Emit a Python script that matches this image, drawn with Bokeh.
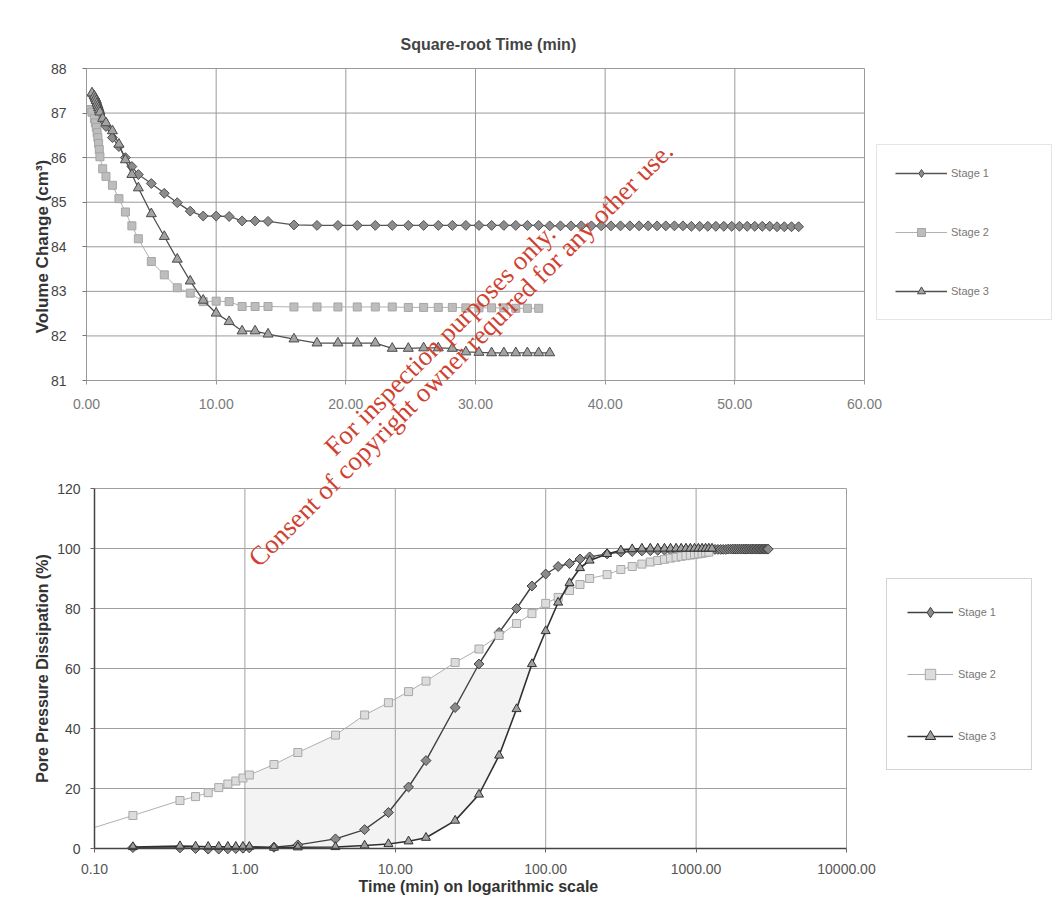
import numpy as np
from bokeh.plotting import figure
from bokeh.models import (Range1d, FixedTicker, PrintfTickFormatter, Legend,
                          LegendItem, Label, LinearAxis, LogAxis, LinearScale,
                          LogScale)
from bokeh.embed import file_html
from bokeh.resources import INLINE

# ---------------- data ----------------
# elapsed time (min) of each reading
T1 = [0.18, 0.37, 0.47, 0.57, 0.67, 0.77, 0.87, 0.97, 1.07, 1.56, 2.25, 4, 6.25, 9,
      12.25, 16, 25, 36, 49, 64, 81, 100, 121, 144, 169, 196,
      256, 316, 376, 436, 496, 556, 616, 676, 736, 796, 856, 916, 976, 1036, 1096,
      1156, 1216, 1276, 1336, 1396, 1456, 1516, 1576, 1636, 1696, 1756, 1816, 1876,
      1936, 1996, 2056, 2116, 2176, 2236, 2296, 2356, 2416, 2476, 2536, 2596, 2656,
      2716, 2776, 2836, 2896, 2956, 3016]
VOL1 = [87.40, 87.33, 87.28, 87.23, 87.18, 87.13, 87.08, 87.03, 86.98, 86.85, 86.70,
        86.45, 86.25, 86.00, 85.80, 85.62, 85.42, 85.20, 84.99, 84.80, 84.69, 84.69,
        84.68, 84.58, 84.58, 84.57,
        84.49, 84.48, 84.48, 84.48, 84.48, 84.48, 84.48, 84.48, 84.48, 84.48,
        84.48, 84.48, 84.48, 84.48, 84.48, 84.48, 84.48, 84.47, 84.47, 84.47,
        84.47, 84.47, 84.47, 84.47, 84.47, 84.47, 84.47, 84.47, 84.47, 84.47,
        84.47, 84.47, 84.46, 84.46, 84.46, 84.46, 84.46, 84.46, 84.46, 84.46,
        84.46, 84.46, 84.46, 84.45, 84.45, 84.45, 84.45]
DISS1 = [0.3, 0.2, 0.0, -0.2, -0.2, -0.1, 0.0, 0.1, 0.2, 0.4, 1.2, 3.2, 6.3, 12.0,
         20.5, 29.3, 47.0, 61.5, 72.0, 80.0, 87.5, 91.5, 94.0, 95.0, 96.5, 97.2,
         98.2, 98.8, 99.0, 99.2, 99.3, 99.4, 99.5, 99.5, 99.5, 99.6,
         99.6, 99.6, 99.6, 99.7, 99.7, 99.7, 99.7, 99.7, 99.7, 99.7,
         99.7, 99.7, 99.7, 99.8, 99.8, 99.8, 99.8, 99.8, 99.8, 99.8,
         99.8, 99.8, 99.8, 99.8, 99.8, 99.8, 99.8, 99.8, 99.8, 99.8,
         99.8, 99.8, 99.8, 99.8, 99.8, 99.8, 99.8]

# first Stage 2 entry is where its line meets the left edge (no marker drawn there)
T2 = [0.1, 0.18, 0.37, 0.47, 0.57, 0.67, 0.77, 0.87, 0.97, 1.07, 1.56, 2.25, 4, 6.25,
      9, 12.25, 16, 25, 36, 49, 64, 81, 100, 121, 144, 169, 196,
      256, 316, 376, 436, 496, 556, 616, 676, 736, 796, 856, 916, 976, 1036, 1096,
      1156, 1216]
VOL2 = [87.08, 87.02, 86.88, 86.78, 86.68, 86.56, 86.45, 86.32, 86.18, 86.02, 85.75,
        85.58, 85.38, 85.08, 84.78, 84.47, 84.18, 83.67, 83.37, 83.08, 82.96, 82.77,
        82.78, 82.77, 82.66, 82.66, 82.66,
        82.65, 82.65, 82.65, 82.65, 82.65, 82.65, 82.64, 82.64, 82.64, 82.64,
        82.63, 82.63, 82.63, 82.63, 82.62, 82.62, 82.62]
DISS2 = [7.0, 11.0, 16.0, 17.3, 18.6, 20.3, 21.5, 22.5, 23.5, 24.5, 28.0, 32.0, 37.8,
         44.5, 48.6, 52.3, 55.8, 62.0, 66.5, 71.0, 75.0, 78.3, 81.7, 83.7, 86.0, 88.0,
         90.0,
         91.3, 93.0, 94.0, 94.8, 95.5, 96.0, 96.4, 96.8, 97.1, 97.4, 97.6, 97.8,
         98.0, 98.2, 98.4, 98.6, 98.8]

T3 = [0.18, 0.37, 0.47, 0.57, 0.67, 0.77, 0.87, 0.97, 1.07, 1.56, 2.25, 4, 6.25, 9,
      12.25, 16, 25, 36, 49, 64, 81, 100, 121, 144, 169, 196,
      256, 316, 376, 436, 496, 556, 616, 676, 736, 796, 856, 916, 976, 1036, 1096,
      1156, 1216, 1276]
VOL3 = [87.45, 87.38, 87.33, 87.28, 87.22, 87.17, 87.12, 87.07, 87.02, 86.88, 86.78,
        86.60, 86.30, 85.95, 85.62, 85.32, 84.74, 84.23, 83.72, 83.23, 82.80, 82.51,
        82.32, 82.11, 82.11, 82.04,
        81.93, 81.84, 81.84, 81.84, 81.84, 81.72, 81.72, 81.73, 81.73, 81.72,
        81.64, 81.63, 81.62, 81.62, 81.62, 81.62, 81.62, 81.62]
DISS3 = [0.5, 0.8, 0.7, 0.6, 0.6, 0.6, 0.6, 0.6, 0.6, 0.3, 0.4, 0.5, 1.0, 1.5, 2.4,
         3.6, 9.3, 18.0, 31.0, 46.5, 61.5, 72.5, 82.0, 88.5, 93.5, 96.0,
         98.2, 99.4, 99.8, 100.0, 100.0, 100.0, 100.0, 100.0, 100.0, 100.0,
         100.0, 100.0, 100.0, 100.0, 100.0, 100.0, 100.0, 100.0]

STAGES = ["Stage 1", "Stage 2", "Stage 3"]
TOP_XTICKS = [0, 10, 20, 30, 40, 50, 60]
TOP_YTICKS = [81, 82, 83, 84, 85, 86, 87, 88]
BOT_XTICKS = [0.1, 1, 10, 100, 1000, 10000]
BOT_YTICKS = [0, 20, 40, 60, 80, 100, 120]
TOP_TITLE = "Square-root Time (min)"
TOP_YLABEL = "Volume Change (cm³)"
BOT_XLABEL = "Time (min) on logarithmic scale"
BOT_YLABEL = "Pore Pressure Dissipation (%)"
WATERMARK = ["For inspection purposes only.",
             "Consent of copyright owner required for any other use."]

FONT = "Liberation Sans"
SERIF = "Liberation Serif"
WM_COLOR = "#cf4232"

STYLE_TOP = [
    dict(marker="square", angle=np.pi / 4, size=7, fill="#8c8c8c", outline="#505050", line="#555555", lw=1.3),
    dict(marker="square", angle=0.0, size=8, fill="#bdbdbd", outline="#a5a5a5", line="#b0b0b0", lw=1.0),
    dict(marker="triangle", angle=0.0, size=10, fill="#a3a3a3", outline="#4a4a4a", line="#505050", lw=1.3),
]
STYLE_BOT = [
    dict(marker="square", angle=np.pi / 4, size=7, fill="#8a8a8a", outline="#404040", line="#404040", lw=1.4),
    dict(marker="square", angle=0.0, size=8, fill="#dcdcdc", outline="#a8a8a8", line="#b0b0b0", lw=1.0),
    dict(marker="triangle", angle=0.0, size=9, fill="#a0a0a0", outline="#303030", line="#303030", lw=1.6),
]

# ---------------- page layout (pixels, from the top-left corner) ----------------
W, H = 1064, 920
T_L, T_X60, T_TOP, T_Y81 = 86, 864, 68, 380      # top chart: x=0, x=60, y=88, y=81
B_L, B_X4, B_Y120, B_Y0 = 94, 846, 488, 848      # bottom chart: 0.1, 10000, 120, 0

t_ppx = (T_X60 - T_L) / 60.0
t_ppy = (T_Y81 - T_TOP) / 7.0
b_ppd = (B_X4 - B_L) / 5.0
b_ppy = (B_Y0 - B_Y120) / 120.0

# one canvas for both charts: the bottom chart uses the default (log) ranges,
# the top chart uses the named linear ranges "tx"/"ty"
p = figure(width=W, height=H, output_backend="svg", toolbar_location=None,
           x_axis_type="log", x_axis_location=None, y_axis_location=None,
           x_range=Range1d(10 ** (-1 - B_L / b_ppd), 10 ** (4 + (W - B_X4) / b_ppd)),
           y_range=Range1d(-(H - B_Y0) / b_ppy, 120 + B_Y120 / b_ppy),
           min_border_left=0, min_border_right=0, min_border_top=0,
           min_border_bottom=0)
p.x_scale = LogScale()
p.extra_x_ranges = {"tx": Range1d(-T_L / t_ppx, (W - T_L) / t_ppx)}
p.extra_y_ranges = {"ty": Range1d(81 - (H - T_Y81) / t_ppy, 88 + T_TOP / t_ppy)}
p.extra_x_scales = {"tx": LinearScale()}
p.outline_line_color = None
p.grid.visible = False


def style_axis(ax, label_color, line_color, tick_color, standoff, lw=1.0):
    ax.major_label_text_font = FONT
    ax.major_label_text_font_size = "14px"
    ax.major_label_text_color = label_color
    ax.minor_tick_line_color = None
    ax.major_tick_in = 0
    ax.major_tick_out = 4
    ax.axis_line_color = line_color
    ax.axis_line_width = lw
    ax.major_tick_line_color = tick_color
    ax.major_label_standoff = standoff


def text_label(text, px, py, size, angle=0.0, align="left", color="#333333",
               bold=True, font=FONT, baseline="middle"):
    p.add_layout(Label(x=px, y=H - py, x_units="screen", y_units="screen", text=text,
                       angle=angle, text_align=align, text_baseline=baseline,
                       text_font=font, text_font_size=size,
                       text_font_style="bold" if bold else "normal",
                       text_color=color))


def legend_marker(st, scatter_renderer, **kw):
    # the legend ignores marker rotation, so the rotated-square series gets a
    # legend-only diamond proxy (a single NaN point, never drawn on the chart)
    if not st["angle"]:
        return scatter_renderer
    return p.scatter(x=[np.nan], y=[np.nan], marker="diamond", size=st["size"] + 4,
                     fill_color=st["fill"], line_color=st["outline"], line_width=1, **kw)


# ---------------- top chart: square-root time ----------------
TR = dict(x_range_name="tx", y_range_name="ty")
ax_tx = LinearAxis(ticker=FixedTicker(ticks=TOP_XTICKS),
                   formatter=PrintfTickFormatter(format="%.2f"),
                   fixed_location=TOP_YTICKS[0], bounds=(TOP_XTICKS[0], TOP_XTICKS[-1]), **TR)
style_axis(ax_tx, "#7a7a7a", "#999999", "#999999", 14)
p.add_layout(ax_tx, "below")
ax_ty = LinearAxis(ticker=FixedTicker(ticks=TOP_YTICKS),
                   fixed_location=TOP_XTICKS[0], bounds=(TOP_YTICKS[0], TOP_YTICKS[-1]), **TR)
style_axis(ax_ty, "#444444", "#999999", "#777777", 16)
p.add_layout(ax_ty, "left")

p.segment(x0=[TOP_XTICKS[0]] * len(TOP_YTICKS), x1=[TOP_XTICKS[-1]] * len(TOP_YTICKS),
          y0=TOP_YTICKS, y1=TOP_YTICKS, line_color="#9a9a9a", line_width=1, **TR)
p.segment(x0=TOP_XTICKS, x1=TOP_XTICKS, y0=[TOP_YTICKS[0]] * len(TOP_XTICKS),
          y1=[TOP_YTICKS[-1]] * len(TOP_XTICKS), line_color="#9a9a9a", line_width=1, **TR)

items = []
for name, t, v, st in zip(STAGES, (T1, T2, T3), (VOL1, VOL2, VOL3), STYLE_TOP):
    x = np.sqrt(np.array(t, dtype=float))
    ln = p.line(x, v, line_color=st["line"], line_width=st["lw"], **TR)
    sc = p.scatter(x, v, marker=st["marker"], angle=st["angle"], size=st["size"],
                   fill_color=st["fill"], line_color=st["outline"], line_width=1, **TR)
    items.append(LegendItem(label=name, renderers=[ln, legend_marker(st, sc, **TR)]))
leg1 = Legend(items=items, location=(876, H - 320), padding=18, margin=0,
              glyph_width=52, glyph_height=20, spacing=39, label_standoff=4,
              label_width=82, label_text_font=FONT, label_text_font_size="11px",
              label_text_color="#777777", border_line_color="#cccccc",
              background_fill_color="white")
p.add_layout(leg1)

text_label(TOP_TITLE, 400, 44, "16px", color="#444444")
text_label(TOP_YLABEL, 42, 246, "17px", angle=np.pi / 2, align="center")

# ---------------- bottom chart: log time ----------------
ax_bx = LogAxis(ticker=FixedTicker(ticks=BOT_XTICKS),
                formatter=PrintfTickFormatter(format="%.2f"),
                fixed_location=BOT_YTICKS[0], bounds=(BOT_XTICKS[0], BOT_XTICKS[-1]))
style_axis(ax_bx, "#555555", "#444444", "#666666", 11, lw=1.5)
p.add_layout(ax_bx, "below")
ax_by = LinearAxis(ticker=FixedTicker(ticks=BOT_YTICKS),
                   fixed_location=BOT_XTICKS[0], bounds=(BOT_YTICKS[0], BOT_YTICKS[-1]))
style_axis(ax_by, "#444444", "#444444", "#666666", 10, lw=1.5)
p.add_layout(ax_by, "left")

p.segment(x0=[BOT_XTICKS[0]] * len(BOT_YTICKS), x1=[BOT_XTICKS[-1]] * len(BOT_YTICKS),
          y0=BOT_YTICKS, y1=BOT_YTICKS, line_color="#a0a0a0", line_width=1)
p.segment(x0=BOT_XTICKS, x1=BOT_XTICKS, y0=[BOT_YTICKS[0]] * len(BOT_XTICKS),
          y1=[BOT_YTICKS[-1]] * len(BOT_XTICKS), line_color="#a0a0a0", line_width=1)

# light grey shaded band between the Stage 2 and Stage 3 curves (t >= 1, up to 60 %)
lt2 = np.log10(np.array(T2, dtype=float))
lt3 = np.log10(np.array(T3, dtype=float))
d2 = np.array(DISS2)
d3 = np.array(DISS3)
y2_at1 = np.interp(0.0, lt2, d2)
t2_60 = np.interp(60.0, d2, lt2)
t3_60 = np.interp(60.0, d3[14:], lt3[14:])
sel2 = (lt2 > 0) & (lt2 < t2_60)
sel3 = (lt3 >= np.log10(6.0)) & (lt3 < t3_60)
sx = [1.0, 1.0] + list(10 ** lt2[sel2]) + [10 ** t2_60, 10 ** t3_60] + \
     list(10 ** lt3[sel3][::-1]) + [10 ** lt3[sel3][0]]
sy = [0.0, y2_at1] + list(d2[sel2]) + [60.0, 60.0] + list(d3[sel3][::-1]) + [0.0]
p.patch(sx, sy, fill_color="#f3f3f3", line_color=None, level="underlay")

items2 = []
for i, (name, t, d, st) in enumerate(zip(STAGES, (T1, T2, T3), (DISS1, DISS2, DISS3), STYLE_BOT)):
    ln = p.line(t, d, line_color=st["line"], line_width=st["lw"])
    k = 1 if i == 1 else 0
    sc = p.scatter(t[k:], d[k:], marker=st["marker"], angle=st["angle"], size=st["size"],
                   fill_color=st["fill"], line_color=st["outline"], line_width=1)
    items2.append(LegendItem(label=name, renderers=[ln, legend_marker(st, sc)]))
leg2 = Legend(items=items2, location=(886, H - 770), padding=20, margin=0,
              glyph_width=46, glyph_height=26, spacing=36, label_standoff=5,
              label_width=53, label_text_font=FONT, label_text_font_size="11px",
              label_text_color="#777777", border_line_color="#aaaaaa",
              background_fill_color="white")
p.add_layout(leg2)

text_label(BOT_XLABEL, 358, 886, "16px")
text_label(BOT_YLABEL, 42, 668, "16px", angle=np.pi / 2, align="center")

# ---------------- watermark ----------------
for txt, (px, py) in zip(WATERMARK, [(339, 461), (263, 572)]):
    text_label(txt, px, py, "26.7px", angle=np.pi / 4, color=WM_COLOR, bold=False,
               font=SERIF, baseline="bottom")

open("out.html", "w").write(file_html(p, INLINE))
